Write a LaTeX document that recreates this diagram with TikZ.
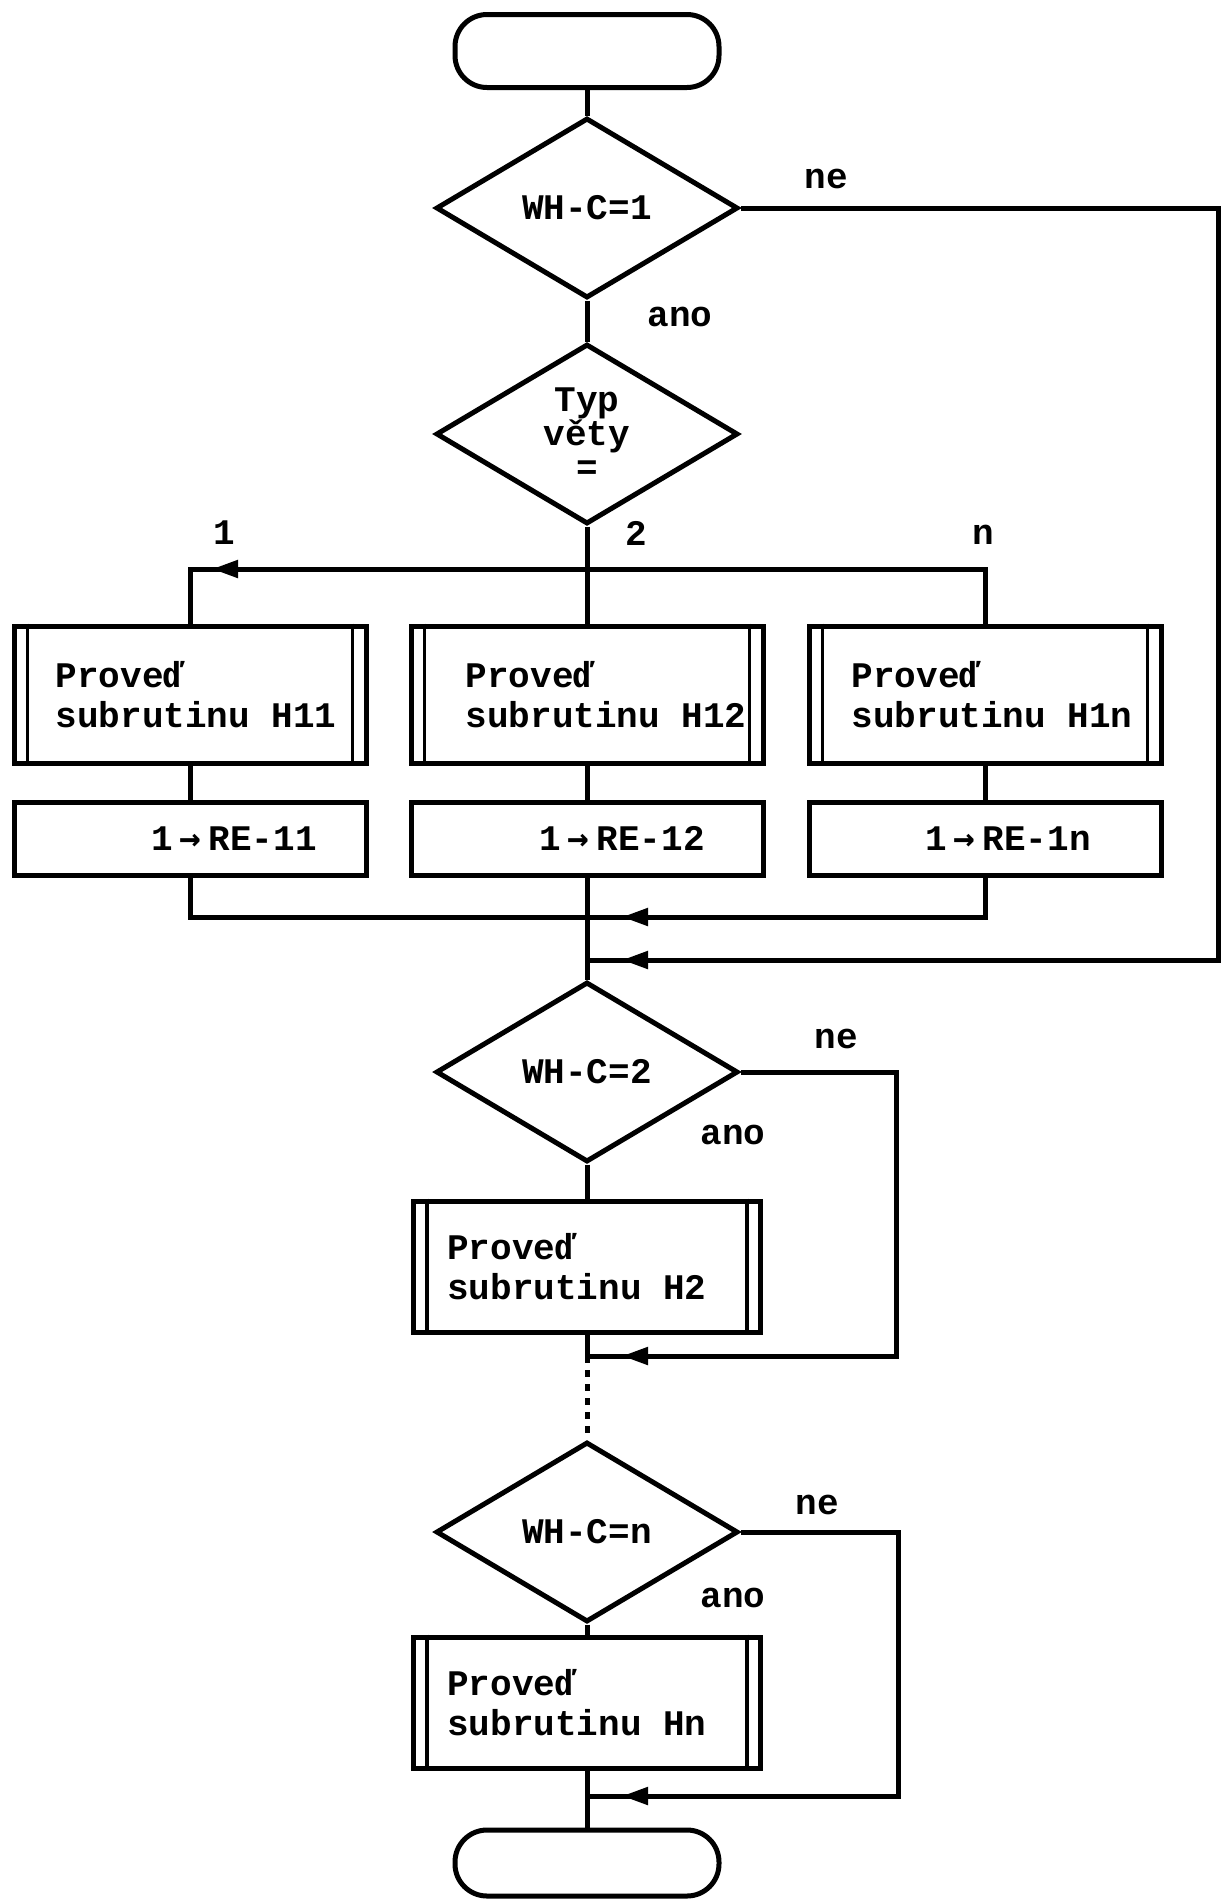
\documentclass[tikz,border=0pt]{standalone}
\usepackage{fontspec}
\setmainfont{Liberation Mono}
\newfontfamily\arrfont{DejaVu Sans Mono}
\usetikzlibrary{shapes.geometric,arrows.meta}
\newcommand{\asgarrow}{\hspace{7pt}{\arrfont\bfseries →}\hspace{7pt}}
\begin{document}
\begin{tikzpicture}[x=1pt,y=-1pt,
  every node/.style={font=\fontsize{36}{40}\selectfont\bfseries, inner sep=0pt},
  line/.style={line width=5pt},
  arr/.style={line width=5pt,-{Triangle[length=26pt,width=17pt]}},
  term/.style={draw, line width=5pt, rectangle, rounded corners=32pt, minimum width=264pt, minimum height=#1},
  dec/.style={draw, line width=5pt, diamond, minimum width=302pt, minimum height=180pt, align=center},
  subbox/.style={draw, line width=5pt, rectangle, minimum width=352pt, minimum height=137pt},
  sbox/.style={draw, line width=5pt, rectangle, minimum width=347pt, minimum height=131pt},
  asg/.style={draw, line width=5pt, rectangle, minimum width=352pt, minimum height=73pt},
  txt/.style={align=left, anchor=west},
  lbl/.style={}
]
\useasboundingbox (0,0) rectangle (1223,1899);

% terminators
\node[term=73pt] (start) at (587,51) {};
\node[term=66pt] (stop) at (587,1863) {};

% decisions
\node[dec] (d1) at (587,208) {WH-C=1};
\node[dec, font=\fontsize{36}{34}\selectfont\bfseries] (d2) at (587,434) {Typ\\věty\\=};
\node[dec] (d3) at (587,1072) {WH-C=2};
\node[dec] (d4) at (587,1532) {WH-C=n};

% subroutine boxes row
\node[subbox] (b11) at (190,694.5) {};
\node[subbox] (b12) at (587,694.5) {};
\node[subbox] (b1n) at (985,694.5) {};
\node[txt] (t11) at ([xshift=44pt]b11.west) {Proveď\\subrutinu H11};
\node[txt] (t12) at ([xshift=57pt]b12.west) {Proveď\\subrutinu H12};
\node[txt] (t1n) at ([xshift=45pt]b1n.west) {Proveď\\subrutinu H1n};

% assignment boxes
\node[asg] (r11) at (190,838.5) {};
\node[asg] (r12) at (587,838.5) {};
\node[asg] (r1n) at (985,838.5) {};
\node (a11) at (234,838.5) {1\asgarrow RE-11};
\node (a12) at (622,838.5) {1\asgarrow RE-12};
\node (a1n) at (1008,838.5) {1\asgarrow RE-1n};

% H2 and Hn boxes
\node[sbox] (h2) at (587,1266.5) {};
\node[txt] (th2) at ([xshift=36pt]h2.west) {Proveď\\subrutinu H2};
\node[sbox] (hn) at (587,1702.5) {};
\node[txt] (thn) at ([xshift=36pt]hn.west) {Proveď\\subrutinu Hn};

% inner stripes of subroutine boxes
\foreach \b in {b11,b12,b1n,h2,hn}{
  \draw[line width=3.5pt] ([xshift=16pt]\b.north west) -- ([xshift=16pt]\b.south west);
  \draw[line width=3.5pt] ([xshift=-16pt]\b.north east) -- ([xshift=-16pt]\b.south east);
}

% coordinates
\coordinate (j1) at (587,569);
\coordinate (tipL) at (212,569);
\coordinate (m1) at (587,917);
\coordinate (tip1) at (622,917);
\coordinate (m2) at (587,960);
\coordinate (q1) at (1218,208);
\coordinate (q2) at (1218,960);
\coordinate (tip2) at (622,960);
\coordinate (q3) at (896,1356);
\coordinate (m3) at (587,1356);
\coordinate (tip3) at (622,1356);
\coordinate (q4) at (898,1796);
\coordinate (m4) at (587,1796);
\coordinate (tip4) at (622,1796);

% connectors
\draw[line] (start) -- (d1);
\draw[line] (d1) -- (d2);
\draw[line] (d2.south) -- (j1) -- (b12.north);
\draw[line] (j1) -| (b11.north);
\draw[arr] (j1) -- (tipL);
\draw[line] (j1) -| (b1n.north);
\draw[line] (b11) -- (r11);
\draw[line] (b12) -- (r12);
\draw[line] (b1n) -- (r1n);
\draw[line] (r11.south) |- (m1);
\draw[line] (r1n.south) |- (m1);
\draw[arr] (r1n.south) |- (tip1);
\draw[line] (r12.south) -- (m1) -- (m2) -- (d3.north);
\draw[line] (d1.east) -- (q1) -- (q2) -- (m2);
\draw[arr] (q2) -- (tip2);
\draw[line] (d3) -- (h2);
\draw[line] (d3.east) -| (q3) -- (m3);
\draw[arr] (q3) -- (tip3);
\draw[line] (h2.south) -- (m3);
\draw[line, dash pattern=on 7pt off 7pt] (m3) -- (d4.north);
\draw[line] (d4) -- (hn);
\draw[line] (d4.east) -| (q4) -- (m4);
\draw[arr] (q4) -- (tip4);
\draw[line] (hn.south) -- (m4) -- (stop);

% labels
\node[lbl] (ne1) at (826,179) {ne};
\node[lbl] (ano1) at (680,317) {ano};
\node[lbl] (l1) at (224,533) {1};
\node[lbl] (l2) at (636,533) {2};
\node[lbl] (ln) at (983,535) {n};
\node[lbl] (ne3) at (836,1039) {ne};
\node[lbl] (ano3) at (733,1135) {ano};
\node[lbl] (ne4) at (817,1505) {ne};
\node[lbl] (ano4) at (733,1598) {ano};
\end{tikzpicture}
\end{document}
